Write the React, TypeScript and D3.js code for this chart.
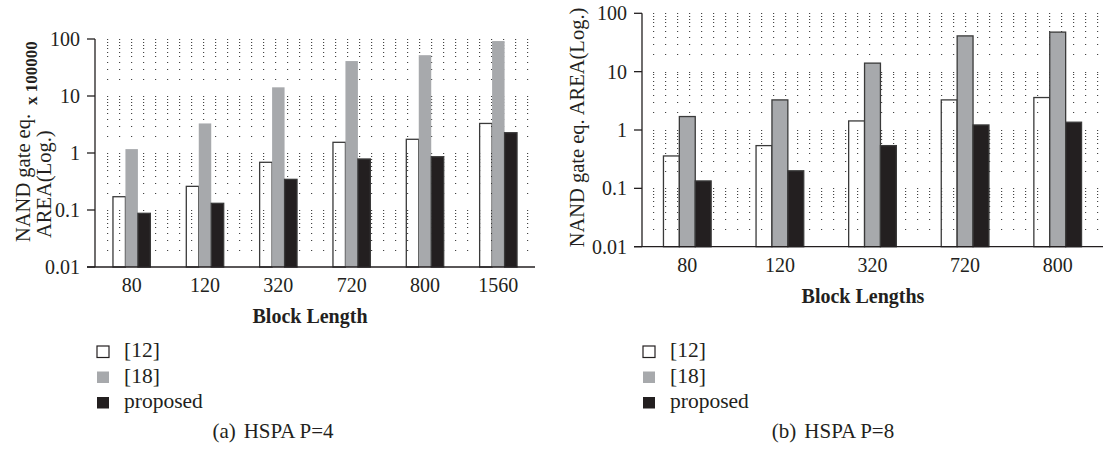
import React from "react";
import * as d3 from "d3";

// ---- Data ----
const seriesNames = ["[12]", "[18]", "proposed"];
const seriesColors = ["none", "#a7a9ac", "#231f20"];

const categoriesA = ["80", "120", "320", "720", "800", "1560"];
const ref12A = [0.171, 0.26, 0.687, 1.54, 1.74, 3.3];
const ref18A = [1.17, 3.3, 14.2, 41, 52, 92];
const proposedA = [0.0875, 0.131, 0.345, 0.785, 0.86, 2.27];

const categoriesB = ["80", "120", "320", "720", "800"];
const ref12B = [0.359, 0.54, 1.43, 3.28, 3.6];
const ref18B = [1.7, 3.28, 14.0, 41, 47.6];
const proposedB = [0.134, 0.2, 0.54, 1.22, 1.36];

const tickValues = [0.01, 0.1, 1, 10, 100];
const tickLabels = ["0.01", "0.1", "1", "10", "100"];

const FONT = "'Liberation Serif', 'Times New Roman', serif";
const INK = "#231f20";

type PanelProps = {
  categories: string[];
  series: number[][];
  x0: number;
  x1: number;
  yTop: number;
  yBottom: number;
  gridStart: number;
  axisLeft: number;
  padInner: number;
  strokeGrey: boolean;
};

function Panel(p: PanelProps) {
  const y = d3.scaleLog().domain([0.01, 100]).range([p.yBottom, p.yTop]);
  const xb = d3
    .scaleBand<string>()
    .domain(p.categories)
    .range([p.x0, p.x1])
    .paddingInner(p.padInner)
    .paddingOuter(p.padInner / 2);
  const xs = d3
    .scaleBand<number>()
    .domain([0, 1, 2])
    .range([0, xb.bandwidth()]);

  const gridVals: number[] = [];
  for (let e = -2; e < 2; e++) {
    for (let k = 1; k <= 9; k++) {
      if (e === -2 && k === 1) continue;
      gridVals.push(k * Math.pow(10, e));
    }
  }
  gridVals.push(100);

  return (
    <g>
      {gridVals.map((v, i) => (
        <line
          key={"g" + i}
          x1={p.gridStart}
          x2={p.x1}
          y1={Math.round(y(v)) + 0.5}
          y2={Math.round(y(v)) + 0.5}
          stroke="#444"
          strokeWidth={1}
          strokeDasharray="1.2,10.8"
        />
      ))}
      {p.categories.map((c, ci) =>
        p.series.map((s, si) => {
          const v = s[ci];
          const bx = (xb(c) as number) + (xs(si) as number);
          const stroke = si === 1 && !p.strokeGrey ? "none" : "#3a3a3a";
          return (
            <rect
              key={c + "-" + si}
              x={bx}
              y={y(v)}
              width={xs.bandwidth()}
              height={p.yBottom - y(v)}
              fill={seriesColors[si]}
              stroke={stroke}
              strokeWidth={1.3}
            />
          );
        })
      )}
      {/* axes */}
      <line x1={p.axisLeft} x2={p.axisLeft} y1={p.yTop} y2={p.yBottom} stroke={INK} strokeWidth={1.3} />
      <line x1={p.axisLeft - 8} x2={p.x1} y1={p.yBottom} y2={p.yBottom} stroke={INK} strokeWidth={1.3} />
      {tickValues.map((t, i) => (
        <g key={"t" + i}>
          <line x1={p.axisLeft - 8} x2={p.axisLeft} y1={y(t)} y2={y(t)} stroke={INK} strokeWidth={1.3} />
          <text
            x={p.axisLeft - 15}
            y={y(t)}
            dy="0.35em"
            textAnchor="end"
            fontFamily={FONT}
            fontSize={20}
            fill={INK}
          >
            {tickLabels[i]}
          </text>
        </g>
      ))}
      {p.categories.map((c) => (
        <text
          key={"c" + c}
          x={(xb(c) as number) + xb.bandwidth() / 2}
          y={p.yBottom + 25}
          textAnchor="middle"
          fontFamily={FONT}
          fontSize={20}
          fill={INK}
        >
          {c}
        </text>
      ))}
    </g>
  );
}

function Legend({ x, y }: { x: number; y: number }) {
  return (
    <g>
      {seriesNames.map((n, i) => (
        <g key={n}>
          <rect
            x={x}
            y={y + i * 25.5 - 11}
            width={12}
            height={11.5}
            fill={i === 0 ? "#fff" : seriesColors[i]}
            stroke={i === 0 ? INK : "none"}
            strokeWidth={1.2}
          />
          <text x={x + 27} y={y + i * 25.5} fontFamily={FONT} fontSize={21.5} fill={INK}>
            {n}
          </text>
        </g>
      ))}
    </g>
  );
}

export default function App() {
  return (
    <svg
      width={1103}
      height={458}
      style={{ position: "absolute", left: 0, top: 0, background: "#fff" }}
    >
      <rect width={1103} height={458} fill="#fff" />
      <Panel
        categories={categoriesA}
        series={[ref12A, ref18A, proposedA]}
        x0={95}
        x1={535}
        yTop={39}
        yBottom={267}
        gridStart={107}
        axisLeft={95}
        padInner={0.49}
        strokeGrey={false}
      />
      <Panel
        categories={categoriesB}
        series={[ref12B, ref18B, proposedB]}
        x0={641}
        x1={1104}
        yTop={13.3}
        yBottom={246.7}
        gridStart={653}
        axisLeft={642}
        padInner={0.485}
        strokeGrey={true}
      />
      {/* Left y label */}
      <text transform="translate(30,242) rotate(-90)" fontFamily={FONT} fontSize={20.5} fill={INK}>
        NAND gate eq.
        <tspan dx={9} dy={7} fontWeight="bold" fontSize={17}>
          x 100000
        </tspan>
      </text>
      <text transform="translate(51,238) rotate(-90)" fontFamily={FONT} fontSize={20.5} fill={INK}>
        AREA(Log.)
      </text>
      {/* Right y label */}
      <text
        transform="translate(584,127.5) rotate(-90)"
        textAnchor="middle"
        fontFamily={FONT}
        fontSize={20.5}
        fill={INK}
      >
        NAND gate eq. AREA(Log.)
      </text>
      {/* x titles */}
      <text x={310} y={323} textAnchor="middle" fontFamily={FONT} fontSize={20} fontWeight="bold" fill={INK}>
        Block Length
      </text>
      <text x={863} y={302.5} textAnchor="middle" fontFamily={FONT} fontSize={20} fontWeight="bold" fill={INK}>
        Block Lengths
      </text>
      <Legend x={97} y={357} />
      <Legend x={643} y={357} />
      {/* captions */}
      <text x={273} y={438} textAnchor="middle" fontFamily={FONT} fontSize={21} fill={INK}>
        (a)<tspan dx={8}>HSPA P=4</tspan>
      </text>
      <text x={833} y={438} textAnchor="middle" fontFamily={FONT} fontSize={21} fill={INK}>
        (b)<tspan dx={8}>HSPA P=8</tspan>
      </text>
    </svg>
  );
}
